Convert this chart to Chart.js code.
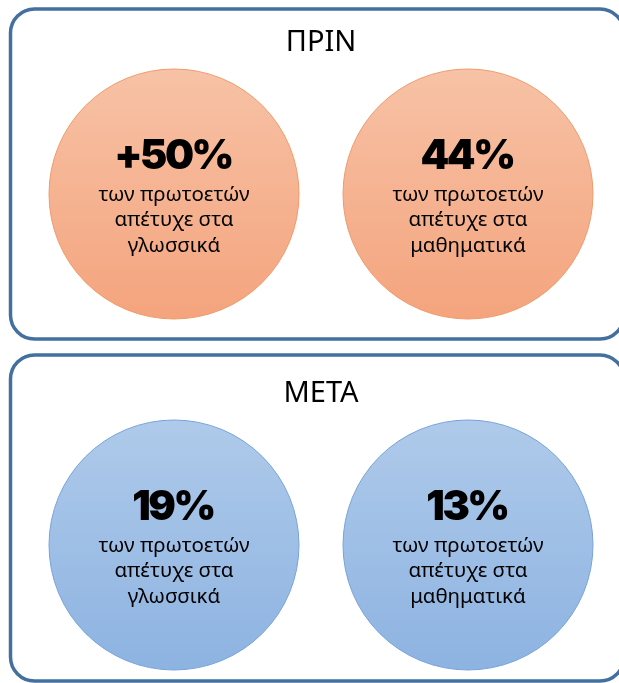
<!DOCTYPE html>
<html>
<head>
<meta charset="utf-8">
<script src="https://cdn.jsdelivr.net/npm/chart.js@4.4.1/dist/chart.umd.min.js"></script>
<style>
  html, body { margin: 0; padding: 0; background: #fff; }
  #wrap { width: 619px; height: 683px; }
</style>
</head>
<body>
<div id="wrap"><canvas id="circles"></canvas></div>
<script>
// rows = panels, columns = subjects
const periods = ['ΠΡΙΝ', 'ΜΕΤΑ'];
const subjects = ['γλωσσικά', 'μαθηματικά'];
const beforeValues = [50, 44];
const afterValues = [19, 13];
const beforeLabels = ['+50%', '44%'];
const afterLabels = ['19%', '13%'];
const captionLines = ['των πρωτοετών', 'απέτυχε στα'];

const palette = {
  'ΠΡΙΝ': { top: '#f7c2a6', bottom: '#f4a47d', border: '#f09a6a' },
  'ΜΕΤΑ': { top: '#afcaea', bottom: '#8db3e1', border: '#77a3da' }
};

function makePoints(values, labels, period) {
  return values.map((v, i) => ({ x: subjects[i], y: period, value: v, label: labels[i] }));
}

function circleFill(context) {
  const chart = context.chart;
  const raw = context.raw;
  if (!raw) return '#ccc';
  const pal = palette[raw.y];
  const cy = chart.scales.y ? chart.scales.y.getPixelForValue(periods.indexOf(raw.y)) : NaN;
  if (!isFinite(cy)) return pal.bottom;
  const r = 125;
  const g = chart.ctx.createLinearGradient(0, cy - r, 0, cy + r);
  g.addColorStop(0, pal.top);
  g.addColorStop(1, pal.bottom);
  return g;
}

// rounded panels + titles behind the circles
const panelPlugin = {
  id: 'panels',
  beforeDatasetsDraw(chart) {
    const ctx = chart.ctx;
    const ys = chart.scales.y, xs = chart.scales.x;
    const midX = (xs.getPixelForValue(0) + xs.getPixelForValue(1)) / 2;
    const boxes = [{ top: -185, bottom: 145 }, { top: -190, bottom: 136 }];
    periods.forEach((p, i) => {
      const cy = ys.getPixelForValue(i);
      const x0 = 10.5, x1 = 624, y0 = cy + boxes[i].top, y1 = cy + boxes[i].bottom;
      ctx.save();
      ctx.beginPath();
      ctx.roundRect(x0, y0, x1 - x0, y1 - y0, 24);
      ctx.lineWidth = 3.5;
      ctx.strokeStyle = '#43709e';
      ctx.stroke();
      ctx.fillStyle = '#000';
      ctx.font = '29px "Noto Sans"';
      ctx.textAlign = 'center';
      ctx.textBaseline = 'middle';
      ctx.fillText(p, midX, cy - 151);
      ctx.restore();
    });
  },
  afterDatasetsDraw(chart) {
    const ctx = chart.ctx;
    chart.data.datasets.forEach((ds, di) => {
      chart.getDatasetMeta(di).data.forEach((pt, i) => {
        const raw = ds.data[i];
        ctx.save();
        ctx.fillStyle = '#000';
        ctx.textAlign = 'center';
        ctx.textBaseline = 'middle';
        ctx.font = '900 41px Inter';
        ctx.letterSpacing = '-2.5px';
        ctx.fillText(raw.label, pt.x - 1, pt.y - 37);
        ctx.letterSpacing = '0px';
        ctx.font = '20.5px "Noto Sans"';
        const lines = captionLines.concat([raw.x]);
        lines.forEach((t, k) => ctx.fillText(t, pt.x, pt.y + 1 + k * 25.5));
        ctx.restore();
      });
    });
  }
};

new Chart(document.getElementById('circles'), {
  type: 'scatter',
  data: {
    datasets: [
      { label: periods[0], data: makePoints(beforeValues, beforeLabels, periods[0]) },
      { label: periods[1], data: makePoints(afterValues, afterLabels, periods[1]) }
    ].map(ds => Object.assign(ds, {
      clip: false,
      pointRadius: 125,
      pointHoverRadius: 125,
      pointBorderWidth: 1,
      backgroundColor: circleFill,
      borderColor: palette[ds.label].border
    }))
  },
  options: {
    responsive: true,
    maintainAspectRatio: false,
    animation: false,
    events: [],
    layout: { autoPadding: false, padding: { left: 27, right: 4, top: 194, bottom: 138 } },
    scales: {
      x: { type: 'category', labels: subjects, offset: true, display: false },
      y: { type: 'category', labels: periods, offset: false, display: false }
    },
    plugins: { legend: { display: false }, tooltip: { enabled: false } }
  },
  plugins: [panelPlugin]
});
</script>
</body>
</html>
